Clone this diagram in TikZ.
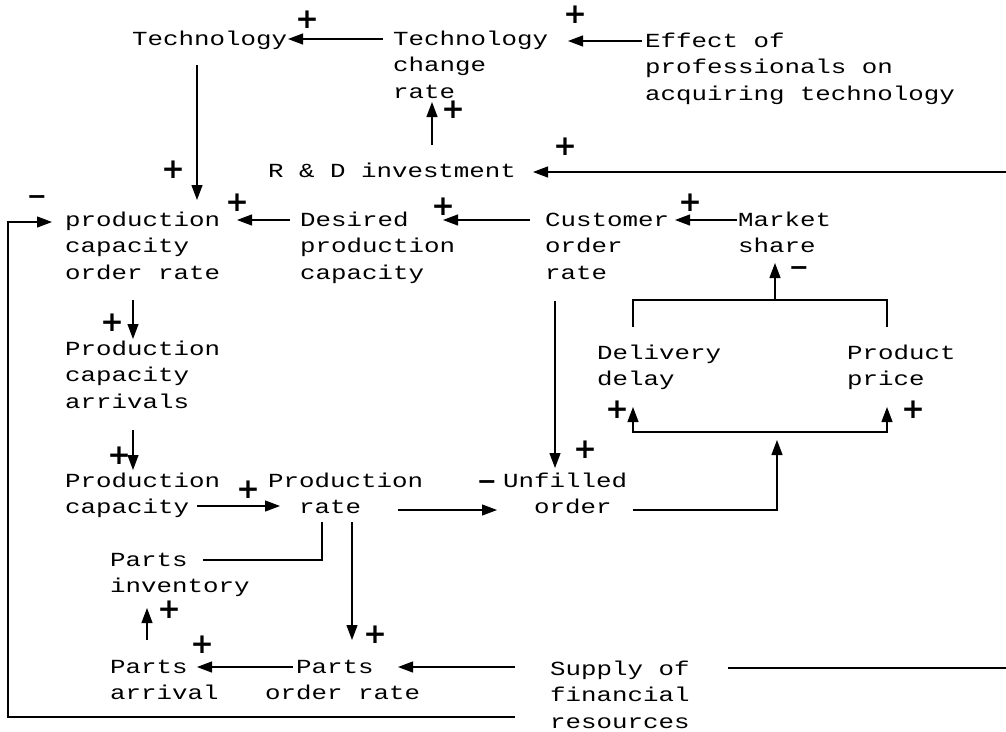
\documentclass[tikz,border=0pt]{standalone}
\usepackage{fontspec}
\setmonofont{Liberation Mono}[FakeStretch=1.29]
\newfontfamily\signfont{DejaVu Sans}
\usetikzlibrary{arrows.meta}
\newcommand{\lineup}{\rule{0pt}{19pt}}

\begin{document}
\begin{tikzpicture}[x=1pt, y=-1pt,
  lbl/.style={font=\ttfamily\fontsize{20}{26.5}\selectfont, anchor=north west,
    inner sep=0pt, align=left},
  cl/.style={line width=1.2pt, -{Triangle[length=15pt, width=11pt]}},
  ln/.style={line width=1.2pt},
  possign/.style={font=\signfont\bfseries\fontsize{28}{28}\selectfont, inner sep=0pt},
  negsign/.style={font=\signfont\bfseries\fontsize{24}{24}\selectfont, inner sep=0pt}]

% --- Canvas ---
\fill[white] (0,0) rectangle (1006,731);
\useasboundingbox (0,0) rectangle (1006,731);

% --- Variables (north west corner of each label) ---
\node[lbl] (tech)     at (132,26)  {\lineup Technology};
\node[lbl] (techrate) at (393,26)  {\lineup Technology\\change\\rate};
\node[lbl] (effect)   at (645,28)  {\lineup Effect of\\professionals on\\acquiring technology};
\node[lbl] (rnd)      at (268,158) {\lineup R \& D investment};
\node[lbl] (pcor)     at (65,207)  {\lineup production\\capacity\\order rate};
\node[lbl] (dpc)      at (300,207) {\lineup Desired\\production\\capacity};
\node[lbl] (cor)      at (545,207) {\lineup Customer\\order\\rate};
\node[lbl] (mshare)   at (738,207) {\lineup Market\\share};
\node[lbl] (pca)      at (65,336)  {\lineup Production\\capacity\\arrivals};
\node[lbl] (delay)    at (597,340) {\lineup Delivery\\delay};
\node[lbl] (price)    at (847,340) {\lineup Product\\price};
\node[lbl] (pcap)     at (65,468)  {\lineup Production\\capacity};
\node[lbl] (prate)    at (268,468) {\lineup Production\\\phantom{xx}rate};
\node[lbl] (unfilled) at (503,468) {\lineup Unfilled\\\phantom{xx}order};
\node[lbl] (pinv)     at (110,547) {\lineup Parts\\inventory};
\node[lbl] (parr)     at (110,654) {\lineup Parts\\arrival};
\node[lbl] (por)      at (265,654) {\lineup\phantom{xx}Parts\\order rate};
\node[lbl] (supply)   at (550,656) {\lineup Supply of\\financial\\resources};

% --- Free ends and junctions ---
\coordinate (rndin)  at (1006,172);
\coordinate (finout) at (1006,668);
\coordinate (loopL)  at (8,717);
\coordinate (jdown)  at (777,432);
\coordinate (jup)    at (775,300);

% --- Technology loop ---
\draw[cl] ([shift={(-10,13)}]techrate.north west) -- ([shift={(156,13)}]tech.north west);
\draw[cl] ([shift={(-3,13)}]effect.north west) -- ([shift={(175,15)}]techrate.north west);
\draw[cl] ([shift={(164,-13)}]rnd.north west) -- ([shift={(39,76)}]techrate.north west);
\draw[cl] ([shift={(65,39)}]tech.north west) -- ([shift={(132,-7)}]pcor.north west);
\draw[cl] (rndin) -- ([shift={(265,14)}]rnd.north west);

% --- Capacity chain ---
\draw[cl] ([shift={(-35,61)}]supply.north west) -- (loopL) |- ([shift={(-13,15)}]pcor.north west);
\draw[cl] ([shift={(-10,13)}]dpc.north west) -- ([shift={(172,13)}]pcor.north west);
\draw[cl] ([shift={(-15,13)}]cor.north west) -- ([shift={(143,13)}]dpc.north west);
\draw[cl] ([shift={(-1,13)}]mshare.north west) -- ([shift={(130,13)}]cor.north west);
\draw[cl] ([shift={(68,93)}]pcor.north west) -- ([shift={(68,3)}]pca.north west);
\draw[cl] ([shift={(68,94)}]pca.north west) -- ([shift={(68,2)}]pcap.north west);
\draw[cl] ([shift={(132,38)}]pcap.north west) -- ([shift={(12,38)}]prate.north west);
\draw[cl] ([shift={(130,42)}]prate.north west) -- ([shift={(-6,42)}]unfilled.north west);
\draw[cl] ([shift={(10,94)}]cor.north west) -- ([shift={(52,0)}]unfilled.north west);

% --- Delay / price bracket ---
\draw[cl, shorten >=8pt] ([shift={(130,42)}]unfilled.north west) -| (jdown);
\draw[cl] (jdown) -| ([shift={(36,67)}]delay.north west);
\draw[cl] (jdown) -| ([shift={(40,67)}]price.north west);
\draw[ln] ([shift={(36,-13)}]delay.north west) |- (jup);
\draw[ln] ([shift={(40,-13)}]price.north west) |- (jup);
\draw[cl] (jup) -- ([shift={(37,56)}]mshare.north west);

% --- Parts ---
\draw[ln] ([shift={(54,54)}]prate.north west) |- ([shift={(93,13)}]pinv.north west);
\draw[cl] ([shift={(84,54)}]prate.north west) -- ([shift={(87,-14)}]por.north west);
\draw[cl] ([shift={(37,-14)}]parr.north west) -- ([shift={(37,61)}]pinv.north west);
\draw[cl] ([shift={(28,13)}]por.north west) -- ([shift={(87,13)}]parr.north west);
\draw[cl] ([shift={(-35,11)}]supply.north west) -- ([shift={(133,13)}]por.north west);
\draw[ln] ([shift={(178,12)}]supply.north west) -- (finout);

% --- Polarities ---
\foreach \x/\y [count=\i] in {307/20, 575/15, 453/110, 173/170, 565/147, 237/203,
    443/207, 690/203, 112/323, 119/456, 248/490, 585/450, 617/410, 913/410,
    169/610, 375/635, 202/645}
  \node[possign] (pos\i) at (\x,\y) {+};
\foreach \x/\y [count=\i] in {37/200, 487/485, 799/271}
  \node[negsign] (neg\i) at (\x,\y) {−};

\end{tikzpicture}
\end{document}
